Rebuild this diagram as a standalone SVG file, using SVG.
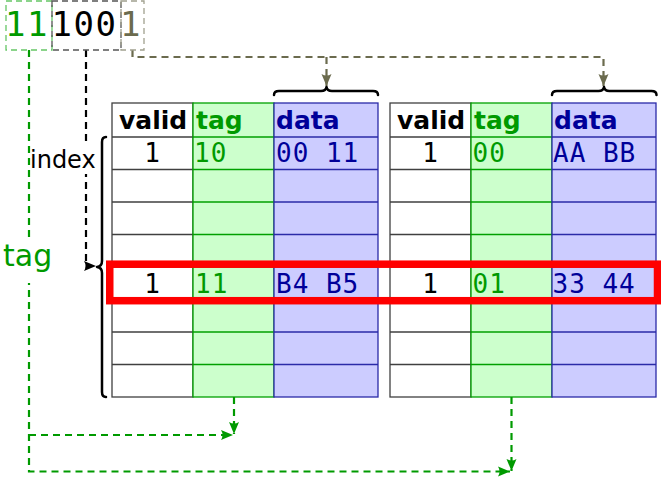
<svg xmlns="http://www.w3.org/2000/svg" width="661" height="478" viewBox="0 0 661 478">
<style>
.mono{font-family:"DejaVu Sans Mono",monospace}
.sans{font-family:"DejaVu Sans",sans-serif}
.addr{font-size:34px;letter-spacing:1.5px}
.cell{font-size:26px;letter-spacing:1px}
.hdr{font-size:25px;font-weight:bold}
.k{fill:#000}
.g{fill:#009a00}
.b{fill:#000099}
.o{fill:#6b6b4e}
.vcol{fill:#fff;stroke:#404040;stroke-width:1.3}
.tcol{fill:#ccffcc;stroke:#00a000;stroke-width:1.3}
.dcol{fill:#ccccff;stroke:#2a2aa8;stroke-width:1.3}
.vl{stroke:#404040;stroke-width:1.3;fill:none}
.tl{stroke:#00a000;stroke-width:1.3;fill:none}
.dl{stroke:#2a2aa8;stroke-width:1.3;fill:none}
.box{fill:none;stroke-width:1.3;stroke-dasharray:6 4}
.dash{fill:none;stroke-width:2.2;stroke-dasharray:7 5}
.brace{fill:none;stroke:#000;stroke-width:2.5;stroke-linecap:round;stroke-linejoin:round}
</style>
<defs>
<marker id="ag" markerUnits="userSpaceOnUse" markerWidth="13" markerHeight="12" refX="12" refY="6" orient="auto"><path d="M0,1 L12,6 L0,11 Q3,6 0,1z" fill="#009a00"/></marker>
<marker id="ak" markerUnits="userSpaceOnUse" markerWidth="13" markerHeight="12" refX="12" refY="6" orient="auto"><path d="M0,1 L12,6 L0,11 Q3,6 0,1z" fill="#000"/></marker>
<marker id="ao" markerUnits="userSpaceOnUse" markerWidth="13" markerHeight="12" refX="12" refY="6" orient="auto"><path d="M0,1 L12,6 L0,11 Q3,6 0,1z" fill="#6b6b4e"/></marker>
</defs>
<rect width="661" height="478" fill="#fff"/>

<g id="connectors">
<path class="dash" stroke="#6b6b4e" d="M132.5,50 V57 H603.5 V86" marker-end="url(#ao)"/>
<path class="dash" stroke="#6b6b4e" d="M326.5,57 V86" marker-end="url(#ao)"/>
<path class="dash" stroke="#000" d="M86,50 V266 H96" marker-end="url(#ak)"/>
<path class="dash" stroke="#009a00" d="M29,50 V471.5 H510" marker-end="url(#ag)"/>
<path class="dash" stroke="#009a00" d="M29,435 H233" marker-end="url(#ag)"/>
<path class="dash" stroke="#009a00" d="M234,397 V434" marker-end="url(#ag)"/>
<path class="dash" stroke="#009a00" d="M511.5,397 V471" marker-end="url(#ag)"/>
</g>

<g id="address">
<g id="addr-tag"><rect class="box" stroke="#66c666" x="6" y="1" width="46" height="49"/><text class="mono addr g" x="5" y="36">11</text></g>
<g id="addr-index"><rect class="box" stroke="#555" x="52" y="1" width="69" height="49"/><text class="mono addr k" x="51.5" y="36">100</text></g>
<g id="addr-offset"><rect class="box" stroke="#a0a08e" x="121" y="1" width="23" height="49"/><text class="mono addr o" x="120" y="36">1</text></g>
</g>

<g id="label-index"><rect x="31" y="146" width="65" height="28" fill="#fff"/><text class="sans" font-size="24" x="30" y="167.5" fill="#000">index</text></g>
<g id="label-tag"><rect x="3" y="238" width="52" height="45" fill="#fff"/><text class="sans" font-size="30" x="3" y="266" fill="#009a00">tag</text></g>

<g id="brace-index"><path class="brace" d="M106,137 Q102,137 102,142 L102,261 Q102,266.5 97,267 Q102,267.5 102,273 L102,392 Q102,397 106,397"/></g>

<g id="way0">
<rect class="vcol" x="112" y="103" width="81" height="294"/>
<path class="vl" d="M112,137H193M112,169.5H193M112,202H193M112,234.5H193M112,267H193M112,299.5H193M112,332H193M112,364.5H193"/>
<rect class="tcol" x="193" y="103" width="81" height="294"/>
<path class="tl" d="M193,137H274M193,169.5H274M193,202H274M193,234.5H274M193,267H274M193,299.5H274M193,332H274M193,364.5H274"/>
<rect class="dcol" x="274" y="103" width="104" height="294"/>
<path class="dl" d="M274,137H378M274,169.5H378M274,202H378M274,234.5H378M274,267H378M274,299.5H378M274,332H378M274,364.5H378"/>
<text class="sans hdr k" x="119" y="128.5">valid</text>
<text class="sans hdr g" x="196" y="128.5">tag</text>
<text class="sans hdr b" x="276" y="128.5">data</text>
<text class="mono cell k" x="152.5" y="162" text-anchor="middle">1</text>
<text class="mono cell g" x="194" y="162">10</text>
<text class="mono cell b" x="276" y="162">00 11</text>
<text class="mono cell k" x="152.5" y="292.5" text-anchor="middle">1</text>
<text class="mono cell g" x="195" y="292.5">11</text>
<text class="mono cell b" x="276" y="292.5">B4 B5</text>
<path class="brace" d="M274,95 Q274,91 279,91 L321,91 Q326,91 326.5,87 Q327,91 332,91 L373,91 Q378,91 378,95"/>
</g>

<g id="way1">
<rect class="vcol" x="390" y="103" width="81" height="294"/>
<path class="vl" d="M390,137H471M390,169.5H471M390,202H471M390,234.5H471M390,267H471M390,299.5H471M390,332H471M390,364.5H471"/>
<rect class="tcol" x="471" y="103" width="81" height="294"/>
<path class="tl" d="M471,137H552M471,169.5H552M471,202H552M471,234.5H552M471,267H552M471,299.5H552M471,332H552M471,364.5H552"/>
<rect class="dcol" x="552" y="103" width="104" height="294"/>
<path class="dl" d="M552,137H656M552,169.5H656M552,202H656M552,234.5H656M552,267H656M552,299.5H656M552,332H656M552,364.5H656"/>
<text class="sans hdr k" x="397" y="128.5">valid</text>
<text class="sans hdr g" x="474" y="128.5">tag</text>
<text class="sans hdr b" x="554" y="128.5">data</text>
<text class="mono cell k" x="430.5" y="162" text-anchor="middle">1</text>
<text class="mono cell g" x="472.5" y="162">00</text>
<text class="mono cell b" x="553" y="162">AA BB</text>
<text class="mono cell k" x="430.5" y="292.5" text-anchor="middle">1</text>
<text class="mono cell g" x="472.5" y="292.5">01</text>
<text class="mono cell b" x="552.5" y="292.5">33 44</text>
<path class="brace" d="M552,95 Q552,91 557,91 L598.5,91 Q603.5,91 604,87 Q604.5,91 609.5,91 L651.5,91 Q656.5,91 656.5,95"/>
</g>

<g id="hit-row"><rect x="109.75" y="264.2" width="547.75" height="36.5" fill="none" stroke="#ff0000" stroke-width="7.5"/></g>
</svg>
